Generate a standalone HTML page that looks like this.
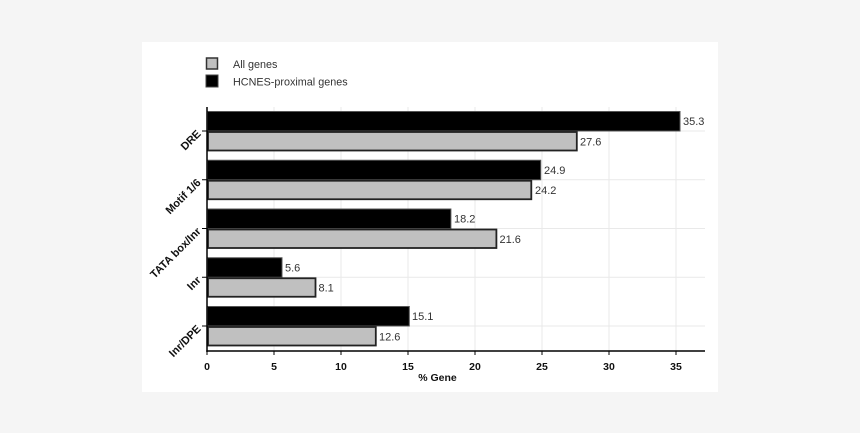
<!DOCTYPE html>
<html><head><meta charset="utf-8"><style>
html,body{margin:0;padding:0;background:#f5f5f5;}
body{width:860px;height:433px;overflow:hidden;position:relative;}
svg{position:absolute;left:0;top:0;}
</style></head><body>
<svg width="860" height="433" viewBox="0 0 860 433" xmlns="http://www.w3.org/2000/svg" font-family="Liberation Sans, Arial, sans-serif">
<rect x="0" y="0" width="860" height="433" fill="#f5f5f5"/>
<rect x="142" y="42" width="576" height="350" fill="#ffffff"/>
<!-- gridlines -->
<g stroke="#e9e9e9" stroke-width="1">
<line x1="274" y1="107" x2="274" y2="351"/>
<line x1="341" y1="107" x2="341" y2="351"/>
<line x1="408" y1="107" x2="408" y2="351"/>
<line x1="475" y1="107" x2="475" y2="351"/>
<line x1="542" y1="107" x2="542" y2="351"/>
<line x1="609" y1="107" x2="609" y2="351"/>
<line x1="676" y1="107" x2="676" y2="351"/>
<line x1="207" y1="131" x2="705" y2="131"/>
<line x1="207" y1="179.75" x2="705" y2="179.75"/>
<line x1="207" y1="228.5" x2="705" y2="228.5"/>
<line x1="207" y1="277.25" x2="705" y2="277.25"/>
<line x1="207" y1="326" x2="705" y2="326"/>
</g>
<!-- bars: x(v)=207+13.4v -->
<g stroke="#555" stroke-width="1" fill="#000">
<rect x="207.5" y="111.5" width="472.5" height="19.5"/>
<rect x="207.5" y="160.25" width="333.2" height="19.5"/>
<rect x="207.5" y="209" width="243.4" height="19.5"/>
<rect x="207.5" y="257.75" width="74.5" height="19.5"/>
<rect x="207.5" y="306.5" width="201.8" height="19.5"/>
</g>
<g stroke="#222" stroke-width="1.8" fill="#c0c0c0">
<rect x="208" y="132" width="368.8" height="18.5"/>
<rect x="208" y="180.75" width="323.3" height="18.5"/>
<rect x="208" y="229.5" width="288.4" height="18.5"/>
<rect x="208" y="278.25" width="107.5" height="18.5"/>
<rect x="208" y="327" width="167.8" height="18.5"/>
</g>
<!-- value labels -->
<g font-size="11" fill="#333">
<text x="683" y="125">35.3</text>
<text x="580" y="145.5">27.6</text>
<text x="544" y="174">24.9</text>
<text x="535" y="194.2">24.2</text>
<text x="454" y="222.7">18.2</text>
<text x="499.5" y="243">21.6</text>
<text x="285" y="271.5">5.6</text>
<text x="318.5" y="291.7">8.1</text>
<text x="412" y="320.2">15.1</text>
<text x="379" y="340.5">12.6</text>
</g>
<!-- axes -->
<line x1="207" y1="107" x2="207" y2="352" stroke="#000" stroke-width="1.5"/>
<line x1="206.3" y1="351" x2="705" y2="351" stroke="#000" stroke-width="1.5"/>
<g stroke="#000" stroke-width="1">
<line x1="207" y1="351" x2="207" y2="355"/>
<line x1="274" y1="351" x2="274" y2="355"/>
<line x1="341" y1="351" x2="341" y2="355"/>
<line x1="408" y1="351" x2="408" y2="355"/>
<line x1="475" y1="351" x2="475" y2="355"/>
<line x1="542" y1="351" x2="542" y2="355"/>
<line x1="609" y1="351" x2="609" y2="355"/>
<line x1="676" y1="351" x2="676" y2="355"/>
<line x1="202" y1="131" x2="207" y2="131"/>
<line x1="202" y1="179.75" x2="207" y2="179.75"/>
<line x1="202" y1="228.5" x2="207" y2="228.5"/>
<line x1="202" y1="277.25" x2="207" y2="277.25"/>
<line x1="202" y1="326" x2="207" y2="326"/>
</g>
<g font-size="10.5" font-weight="bold" fill="#111" text-anchor="middle">
<text x="207" y="370">0</text>
<text x="274" y="370">5</text>
<text x="341" y="370">10</text>
<text x="408" y="370">15</text>
<text x="475" y="370">20</text>
<text x="542" y="370">25</text>
<text x="609" y="370">30</text>
<text x="676" y="370">35</text>
<text x="437.5" y="381">% Gene</text>
</g>
<g font-size="11" font-weight="bold" fill="#111" text-anchor="end">
<text transform="translate(201.5,134.5) rotate(-45)">DRE</text>
<text transform="translate(201.5,183.25) rotate(-45)">Motif 1/6</text>
<text transform="translate(201.5,232) rotate(-45)">TATA box/Inr</text>
<text transform="translate(201.5,280.75) rotate(-45)">Inr</text>
<text transform="translate(201.5,329.5) rotate(-45)">Inr/DPE</text>
</g>
<!-- legend -->
<rect x="206.5" y="58" width="11" height="11" fill="#c0c0c0" stroke="#333" stroke-width="1.5"/>
<rect x="206" y="75" width="12" height="12" fill="#000" stroke="#444" stroke-width="1"/>
<g font-size="10.8" fill="#333">
<text x="233" y="67.8">All genes</text>
<text x="233" y="85.3">HCNES-proximal genes</text>
</g>
</svg>
</body></html>
